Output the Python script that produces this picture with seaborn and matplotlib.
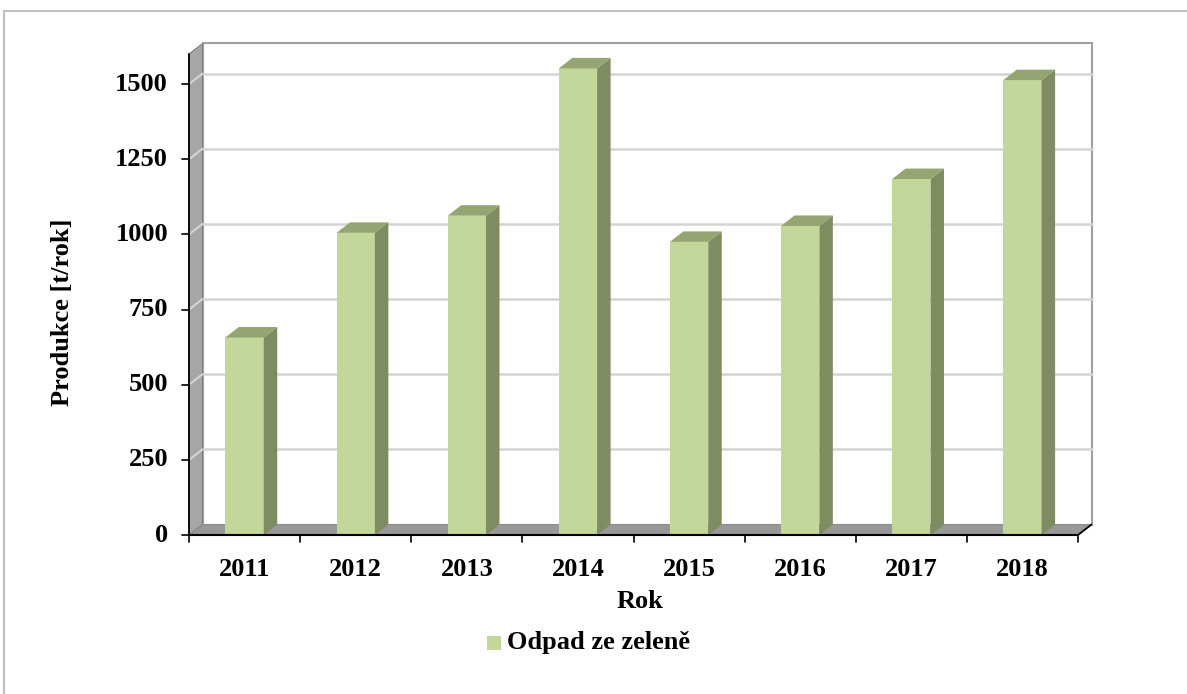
import numpy as np
import pandas as pd
import matplotlib
matplotlib.use("Agg")
import matplotlib.pyplot as plt
import matplotlib.transforms as mtransforms
from matplotlib.patches import Polygon, Rectangle
from matplotlib.lines import Line2D
import seaborn as sns

years = ["2011", "2012", "2013", "2014", "2015", "2016", "2017", "2018"]
production = [657, 1005, 1062, 1552, 975, 1028, 1184, 1513]
yticks = [0, 250, 500, 750, 1000, 1250, 1500]
series_name = "Odpad ze zeleně"

FRONT = "#c4d79b"
SIDE = "#7f8b61"
TOP = "#95a571"
WALL = "#a6a6a6"
FLOOR = "#989898"
GRID = "#d4d4d4"
FS = 19

sns.set_theme(style="white")
plt.rcParams["font.family"] = ["Liberation Serif", "DejaVu Serif"]
plt.rcParams["font.weight"] = "bold"
plt.rcParams["text.color"] = "black"

W, H = 1187, 694
fig = plt.figure(figsize=(W / 100, H / 100), dpi=100)
ax = fig.add_axes([189 / W, (H - 535) / H, (1078 - 189) / W, (535 - 54) / H])
ax.set_xlim(-0.5, len(years) - 0.5)
ax.set_ylim(0, 1600)
ax.axis("off")

# depth offset of the 3D box (13 px right, 10.5 px up)
DX, DY = 0.135, 0.105
back = ax.transData + mtransforms.ScaledTranslation(DX, DY, fig.dpi_scale_trans)
x0, x1 = -0.5, len(years) - 0.5
ytop = 1600

# back wall
ax.add_patch(Rectangle((x0, 0), x1 - x0, ytop, transform=back, facecolor="white",
                       edgecolor="#a0a0a0", lw=1.5, zorder=0, clip_on=False))
for v in yticks[1:]:
    ax.plot([x0, x1], [v, v], transform=back, color=GRID, lw=1.8, zorder=0.5,
            clip_on=False)


def wall_pts(xa, ya, xb, yb):
    return [ax.transData.transform((xa, ya)), ax.transData.transform((xb, yb)),
            back.transform((xb, yb)), back.transform((xa, ya))]


# left wall
lw_pts = wall_pts(x0, 0, x0, ytop)
ax.add_patch(Polygon(lw_pts, closed=True, transform=None, facecolor=WALL,
                     edgecolor="#808080", lw=0.8, zorder=1, clip_on=False))
for v in yticks[1:]:
    p1 = ax.transData.transform((x0, v))
    p2 = back.transform((x0, v))
    ax.add_line(Line2D([p1[0], p2[0]], [p1[1], p2[1]], transform=None,
                       color=GRID, lw=1.5, zorder=1.2, clip_on=False))

# floor
fl_pts = wall_pts(x0, 0, x1, 0)
ax.add_patch(Polygon(fl_pts, closed=True, transform=None, facecolor=FLOOR,
                     edgecolor="#8a8a8a", lw=0.6, zorder=1, clip_on=False))

# bars (front faces)
df = pd.DataFrame({"Rok": years, "Produkce": production})
sns.barplot(data=df, x="Rok", y="Produkce", color=FRONT, saturation=1,
            width=0.345, ax=ax, zorder=3, linewidth=0)
ax.set_xlim(x0, x1)
ax.set_ylim(0, ytop)
if ax.get_legend() is not None:
    ax.get_legend().remove()

for bar in ax.patches[-len(years):]:
    bx, bw, bh = bar.get_x(), bar.get_width(), bar.get_height()
    side = [ax.transData.transform((bx + bw, 0)), ax.transData.transform((bx + bw, bh)),
            back.transform((bx + bw, bh)), back.transform((bx + bw, 0))]
    top = [ax.transData.transform((bx, bh)), ax.transData.transform((bx + bw, bh)),
           back.transform((bx + bw, bh)), back.transform((bx, bh))]
    ax.add_patch(Polygon(side, closed=True, transform=None, facecolor=SIDE,
                         edgecolor="none", zorder=3, clip_on=False))
    ax.add_patch(Polygon(top, closed=True, transform=None, facecolor=TOP,
                         edgecolor="none", zorder=3, clip_on=False))

# front axes lines and ticks
ax.plot([x0, x0], [0, ytop], color="black", lw=1.3, clip_on=False, zorder=5)
ax.plot([x0, x1], [0, 0], color="black", lw=1.5, clip_on=False, zorder=5)
pr = ax.transData.transform((x1, 0))
pb = back.transform((x1, 0))
ax.add_line(Line2D([pr[0], pb[0]], [pr[1], pb[1]], transform=None, color="black",
                   lw=1.3, zorder=5, clip_on=False))

tick_len = 0.07
left_off = ax.transData + mtransforms.ScaledTranslation(-tick_len, 0, fig.dpi_scale_trans)
label_off = ax.transData + mtransforms.ScaledTranslation(-0.21, 0, fig.dpi_scale_trans)
for v in yticks:
    p1 = left_off.transform((x0, v))
    p2 = ax.transData.transform((x0, v))
    ax.add_line(Line2D([p1[0], p2[0]], [p1[1], p2[1]], transform=None, color="black",
                       lw=1.2, zorder=5, clip_on=False))
    ax.text(x0, v, str(v), transform=label_off, ha="right", va="center",
            fontsize=FS, fontweight="bold", color="black", clip_on=False)

down_off = ax.transData + mtransforms.ScaledTranslation(0, -tick_len, fig.dpi_scale_trans)
for i in range(len(years) + 1):
    xb = x0 + i
    p1 = down_off.transform((xb, 0))
    p2 = ax.transData.transform((xb, 0))
    ax.add_line(Line2D([p1[0], p2[0]], [p1[1], p2[1]], transform=None, color="black",
                       lw=1.2, zorder=5, clip_on=False))
xlab_off = ax.transData + mtransforms.ScaledTranslation(0, -0.34, fig.dpi_scale_trans)
for i, yr in enumerate(years):
    ax.text(i, 0, yr, transform=xlab_off, ha="center", va="center", fontsize=FS,
            fontweight="bold", color="black", clip_on=False)

fig.text(63 / W, 1 - 312 / H, "Produkce [t/rok]", rotation=90, ha="center", va="center",
         fontsize=FS, fontweight="bold", color="black")
fig.text(640 / W, 1 - 602 / H, "Rok", ha="center", va="center", fontsize=FS,
         fontweight="bold", color="black")

# legend
fig.patches.append(Rectangle((487 / W, 1 - 650 / H), 14 / W, 14 / H, transform=fig.transFigure,
                             facecolor=FRONT, edgecolor="none"))
fig.text(507 / W, 1 - 643 / H, series_name, ha="left", va="center", fontsize=FS,
         fontweight="bold", color="black")

# chart border (top and left visible)
fig.add_artist(Line2D([4 / W, 1], [1 - 11 / H, 1 - 11 / H], transform=fig.transFigure,
                      color="#c0c0c0", lw=1.5))
fig.add_artist(Line2D([4 / W, 4 / W], [0, 1 - 11 / H], transform=fig.transFigure,
                      color="#c0c0c0", lw=1.5))

fig.savefig("out.png", dpi=100)
